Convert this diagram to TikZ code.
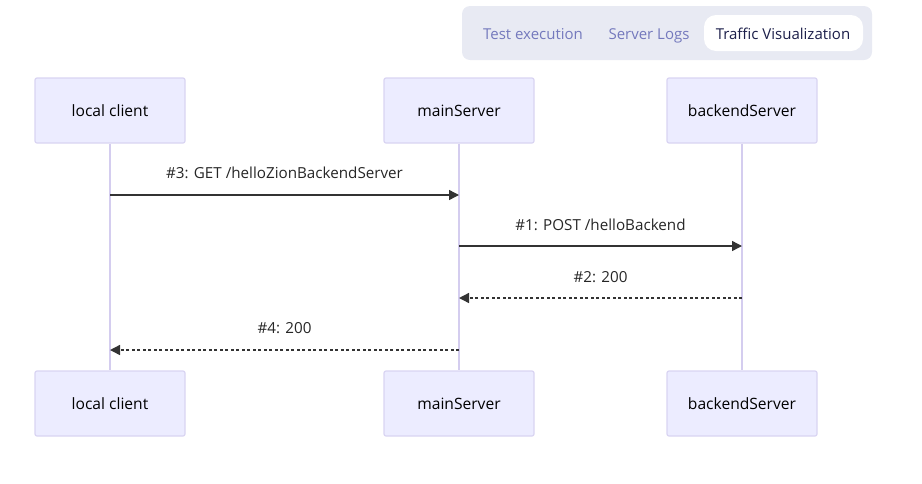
\documentclass[tikz,border=0pt]{standalone}
\usepackage{fontspec}
\setmainfont{Open Sans}
\usetikzlibrary{arrows.meta}
\definecolor{actfill}{HTML}{ECECFF}
\definecolor{actline}{HTML}{D9D4F2}
\definecolor{lifeline}{HTML}{D4CDEF}
\definecolor{tabbar}{HTML}{E8EAF3}
\definecolor{tabtext}{HTML}{7479BD}
\definecolor{tabactive}{HTML}{1C1F4A}
\definecolor{msgline}{HTML}{333333}
\tikzset{
  actor/.style={draw=actline,fill=actfill,line width=1.2pt,rounded corners=2pt,
    minimum width=150pt,minimum height=65pt,inner sep=0pt,font=\fontsize{15.6}{18}\selectfont},
  msg/.style={draw=msgline,line width=1.4pt,-{Triangle[length=10pt,width=10pt]}},
  reply/.style={msg,dash pattern=on 3pt off 2.5pt},
  msglabel/.style={font=\fontsize{15.2}{18}\selectfont,text=black!85,anchor=base},
  tab/.style={font=\fontsize{15}{18}\selectfont,text=tabtext,anchor=base}
}
\begin{document}
\begin{tikzpicture}[x=1pt,y=-1pt]
\useasboundingbox (0,0) rectangle (922,483);
% tab bar
\fill[tabbar,rounded corners=8pt] (462,6) rectangle (872,60);
\fill[white,rounded corners=12pt] (704,15) rectangle (863,51);
\node[tab] (tabtest) at (533,39) {Test execution};
\node[tab] (tablogs) at (649,39) {Server Logs};
\node[tab,text=tabactive] (tabtraffic) at (783,39) {Traffic Visualization};
% actors
\node[actor] (lctop) at (110,110.5) {\raisebox{-1pt}{local client}};
\node[actor] (mstop) at (459,110.5) {\raisebox{-1pt}{mainServer}};
\node[actor] (bstop) at (742,110.5) {\raisebox{-1pt}{backendServer}};
\node[actor] (lcbot) at (110,403.5) {\raisebox{-1pt}{local client}};
\node[actor] (msbot) at (459,403.5) {\raisebox{-1pt}{mainServer}};
\node[actor] (bsbot) at (742,403.5) {\raisebox{-1pt}{backendServer}};
% lifelines
\draw[lifeline,line width=1.6pt] (lctop) -- (lcbot);
\draw[lifeline,line width=1.6pt] (mstop) -- (msbot);
\draw[lifeline,line width=1.6pt] (bstop) -- (bsbot);
% messages
\coordinate (lc3) at (110,195);
\coordinate (ms3) at (459,195);
\coordinate (ms1) at (459,246);
\coordinate (bs1) at (742,246);
\coordinate (bs2) at (742,298);
\coordinate (ms2) at (459,298);
\coordinate (ms4) at (459,350);
\coordinate (lc4) at (110,350);
\draw[msg] (lc3) -- (ms3);
\node[msglabel] (lab3) at (284.5,178) {\#3: GET /helloZionBackendServer};
\draw[msg] (ms1) -- (bs1);
\node[msglabel] (lab1) at (600.5,230) {\#1: POST /helloBackend};
\draw[reply] (bs2) -- (ms2);
\node[msglabel] (lab2) at (600.5,282) {\#2: 200};
\draw[reply] (ms4) -- (lc4);
\node[msglabel] (lab4) at (284.5,333) {\#4: 200};
\end{tikzpicture}
\end{document}
